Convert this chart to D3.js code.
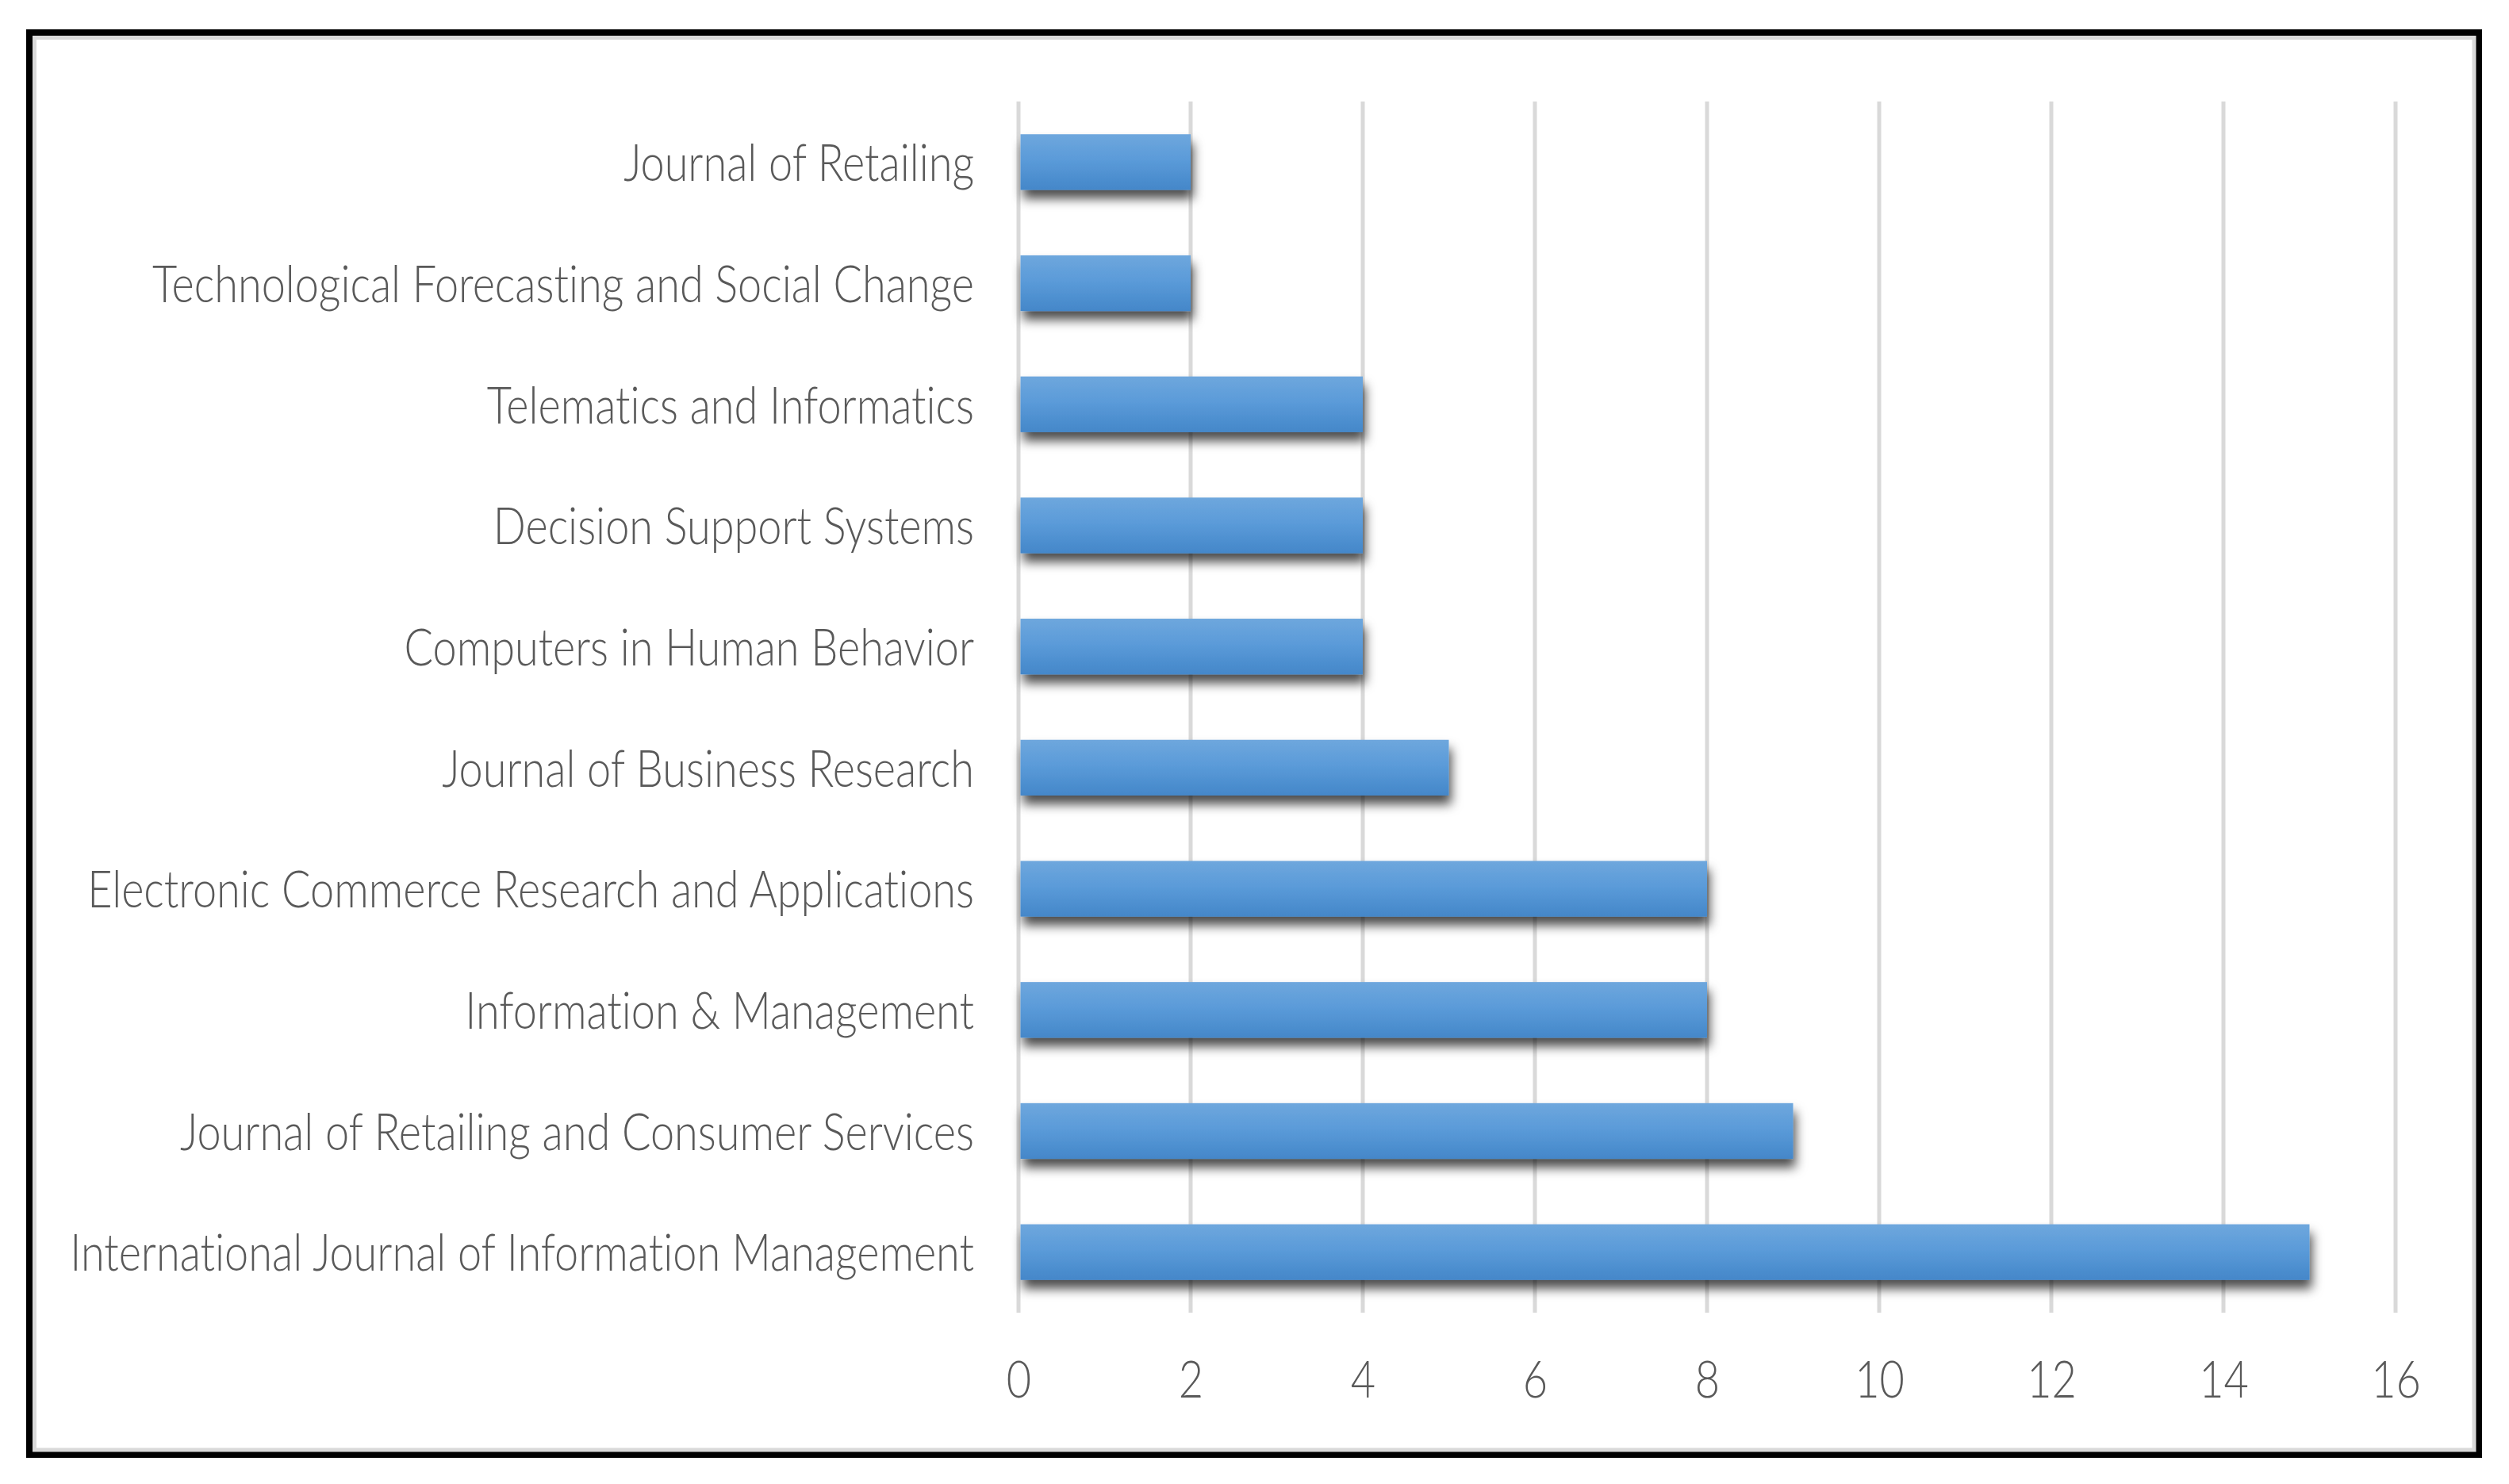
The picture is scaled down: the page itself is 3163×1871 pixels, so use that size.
<!DOCTYPE html>
<html>
<head>
<meta charset="utf-8">
<script src="https://cdn.jsdelivr.net/npm/d3@7"></script>
<style>
  html, body { margin: 0; padding: 0; background: #ffffff; }
  svg { display: block; }
  text { font-variant-ligatures: none; font-feature-settings: "liga" 0, "clig" 0, "dlig" 0; }
</style>
</head>
<body>
<svg id="chart" width="3163" height="1871"></svg>
<script>
// ---- data (top to bottom as shown) ----
const journals = [
  "Journal of Retailing",
  "Technological Forecasting and Social Change",
  "Telematics and Informatics",
  "Decision Support Systems",
  "Computers in Human Behavior",
  "Journal of Business Research",
  "Electronic Commerce Research and Applications",
  "Information & Management",
  "Journal of Retailing and Consumer Services",
  "International Journal of Information Management"
];
const counts = [2, 2, 4, 4, 4, 5, 8, 8, 9, 15];
const xTicks = [0, 2, 4, 6, 8, 10, 12, 14, 16];

// ---- layout ----
const W = 3163, H = 1871;
const plot = { left: 1284, right: 3020, top: 128, bottom: 1655 };
const fontFamily = "Lato, 'Open Sans', 'Liberation Sans', sans-serif";
const fontWeight = 300;
const fontSize = 66;
const textColor = "#595959";
const labelTargetWidth = 1140;

const svg = d3.select("#chart");

// defs: bar gradient and shadow
const defs = svg.append("defs");
const grad = defs.append("linearGradient").attr("id", "barGrad")
  .attr("x1", 0).attr("y1", 0).attr("x2", 0).attr("y2", 1);
grad.append("stop").attr("offset", "0%").attr("stop-color", "#6ea7dd");
grad.append("stop").attr("offset", "45%").attr("stop-color", "#5b9bd9");
grad.append("stop").attr("offset", "100%").attr("stop-color", "#4487c9");

const filt = defs.append("filter").attr("id", "barShadow")
  .attr("x", "-5%").attr("y", "-40%").attr("width", "115%").attr("height", "200%");
filt.append("feDropShadow").attr("dx", 3).attr("dy", 11)
  .attr("stdDeviation", 7).attr("flood-color", "#000").attr("flood-opacity", 0.7);

// frame
svg.append("rect").attr("x", 37).attr("y", 41).attr("width", 3125 - 37).attr("height", 1834 - 41)
  .attr("fill", "#fff").attr("stroke", "#000").attr("stroke-width", 8);
svg.append("rect").attr("x", 43.5).attr("y", 47.5).attr("width", 3119 - 43.5).attr("height", 1828 - 47.5)
  .attr("fill", "none").attr("stroke", "#d9d9d9").attr("stroke-width", 5);

// scales
const x = d3.scaleLinear().domain([0, 16]).range([plot.left, plot.right]);
const y = d3.scaleBand().domain(journals).range([plot.top, plot.bottom]).paddingInner(0.54).paddingOuter(0.27);

// gridlines
svg.append("g").selectAll("line").data(xTicks).join("line")
  .attr("x1", d => x(d)).attr("x2", d => x(d))
  .attr("y1", plot.top).attr("y2", plot.bottom)
  .attr("stroke", "#d9d9d9").attr("stroke-width", 5);

// bars
svg.append("g").selectAll("rect").data(journals).join("rect")
  .attr("x", x(0) + 2.5)
  .attr("y", d => y(d))
  .attr("width", (d, i) => x(counts[i]) - x(0) - 2.5)
  .attr("height", y.bandwidth())
  .attr("fill", "url(#barGrad)")
  .attr("filter", "url(#barShadow)");

// x axis tick labels via d3 axis
const xAxis = d3.axisBottom(x).tickValues(xTicks).tickSize(0).tickPadding(0).tickFormat(d3.format("d"));
const gx = svg.append("g").attr("transform", `translate(0, ${plot.bottom + 60})`).call(xAxis);
gx.select(".domain").remove();
gx.selectAll("text")
  .attr("fill", textColor)
  .attr("font-family", fontFamily)
  .attr("font-weight", fontWeight)
  .attr("font-size", fontSize)
  .attr("dy", "0.71em")
  .attr("y", 0);

// y axis labels via d3 axis
const yAxis = d3.axisLeft(y).tickSize(0).tickPadding(0);
const gy = svg.append("g").attr("transform", `translate(${plot.left - 56}, 0)`).call(yAxis);
gy.select(".domain").remove();
const labels = gy.selectAll("text")
  .attr("fill", textColor)
  .attr("font-family", fontFamily)
  .attr("font-weight", fontWeight)
  .attr("font-size", fontSize)
  .attr("dy", "0.36em")
  .attr("x", 0);

// horizontal compression so the longest label matches the reference width
let maxW = 0;
labels.each(function () { maxW = Math.max(maxW, this.getComputedTextLength()); });
const sx = maxW > 0 ? labelTargetWidth / maxW : 1;
labels.attr("transform", `scale(${sx},1)`);
gx.selectAll("text").attr("transform", `scale(${sx},1)`);
</script>
</body>
</html>
